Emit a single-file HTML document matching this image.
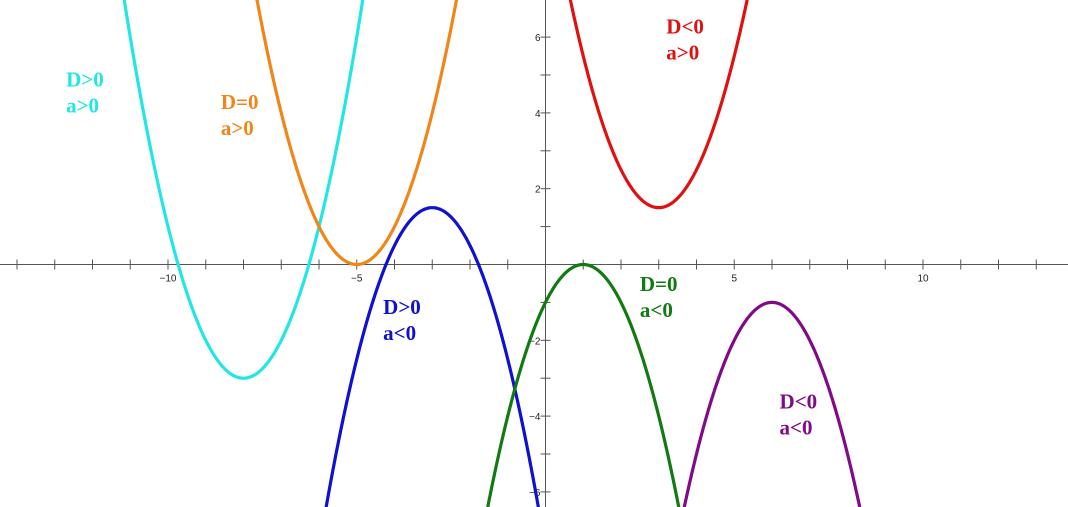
<!DOCTYPE html>
<html><head><meta charset="utf-8">
<style>
html,body{margin:0;padding:0;background:#fff;overflow:hidden;width:1068px;height:507px;}
svg{display:block;}
.lbl{font-family:"Liberation Serif",serif;font-weight:bold;font-size:21px;}
.tk{font-family:"Liberation Sans",sans-serif;font-size:10px;fill:#222;}
</style></head>
<body>
<svg id="chart" width="1068" height="507" viewBox="0 0 1068 507" xmlns="http://www.w3.org/2000/svg" style="overflow:hidden">
</svg>
<script>
const names=['cyan-parabola','orange-parabola','red-parabola','blue-parabola','green-parabola','purple-parabola'];
const vertexX=[-8,-5,3,-3,1,6];
const vertexY=[-3,0,1.5,1.5,0,-1];
const coefA=[1,1,1,-1,-1,-1];
const colors=['#22e6e6','#f0861a','#e01010','#1010d0','#117a11','#800a88'];
const labelLine1=['D>0','D=0','D<0','D>0','D=0','D<0'];
const labelLine2=['a>0','a>0','a>0','a<0','a<0','a<0'];
const labelX=[-12.7,-8.6,3.2,-4.3,2.5,6.2];
const labelY=[4.7,4.1,6.1,-1.3,-0.7,-3.8];
const xTicks=[-10,-5,5,10];
const yTicks=[-6,-4,-2,2,4,6];

const X0=545.5,Y0=264.5,U=37.75,UY=37.9;
const sx=x=>X0+x*U, sy=y=>Y0-y*UY;
const svg=document.getElementById('chart');
const NS='http://www.w3.org/2000/svg';
function mk(t,attrs){const e=document.createElementNS(NS,t);for(const k in attrs)e.setAttribute(k,attrs[k]);svg.appendChild(e);return e;}

const xa=mk('line',{x1:0,y1:Y0,x2:1068,y2:Y0,stroke:'#555','stroke-width':1});


const ya=mk('line',{x1:X0,y1:0,x2:X0,y2:507,stroke:'#555','stroke-width':1});


for(let i=-14;i<=13;i++){if(i===0)continue;const t=mk('line',{x1:sx(i),y1:Y0-5,x2:sx(i),y2:Y0+5,stroke:'#555'});

}
for(let j=-6;j<=6;j++){if(j===0)continue;const t=mk('line',{x1:X0-5,y1:sy(j),x2:X0+5,y2:sy(j),stroke:'#555'});

}
xTicks.forEach(v=>{const t=mk('text',{x:sx(v),y:Y0+17,'text-anchor':'middle',class:'tk'});t.textContent=v<0?'\u2212'+(-v):v;

});
yTicks.forEach(v=>{const t=mk('text',{x:X0-5,y:sy(v)+4,'text-anchor':'end',class:'tk'});t.textContent=v<0?'\u2212'+(-v):v;

});

for(let k=0;k<vertexX.length;k++){
  let d='';
  for(let px=0;px<=1068;px+=0.5){
    const x=(px-X0)/U;const y=coefA[k]*(x-vertexX[k])**2+vertexY[k];
    const py=sy(y);
    if(py<-3||py>510){continue;}
    d+=(d?'L':'M')+px.toFixed(1)+','+py.toFixed(1);
  }
  const p=mk('path',{d:d,fill:'none',stroke:colors[k],'stroke-width':3.2});
  
  
  const t=mk('text',{x:sx(labelX[k]),y:sy(labelY[k]),fill:colors[k],class:'lbl'});
  
  
  const t1=document.createElementNS(NS,'tspan');t1.setAttribute('x',sx(labelX[k]));t1.textContent=labelLine1[k];t.appendChild(t1);
  const t2=document.createElementNS(NS,'tspan');t2.setAttribute('x',sx(labelX[k]));t2.setAttribute('dy','26');t2.textContent=labelLine2[k];t.appendChild(t2);
}
</script>
</body></html>
